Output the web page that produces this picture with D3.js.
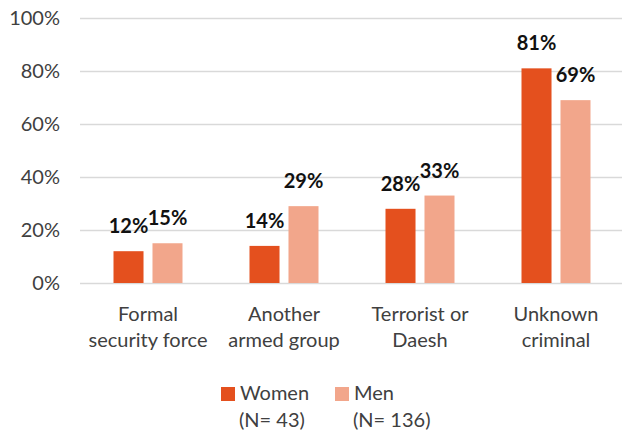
<!DOCTYPE html>
<html>
<head>
<meta charset="utf-8">
<script src="https://cdn.jsdelivr.net/npm/d3@7"></script>
<style>
  html, body { margin: 0; padding: 0; background: #fff; }
  svg { display: block; font-family: Lato, "Open Sans", sans-serif; }
</style>
</head>
<body>
<svg id="chart" width="622" height="432"></svg>
<script>
const categories = [["Formal", "security force"], ["Another", "armed group"], ["Terrorist or", "Daesh"], ["Unknown", "criminal"]];
const categoryKeys = ["Formal security force", "Another armed group", "Terrorist or Daesh", "Unknown criminal"];
const series = ["Women", "Men"];
const seriesN = ["(N= 43)", "(N= 136)"];
const women = [12, 14, 28, 81];
const men = [15, 29, 33, 69];
const yTicks = [0, 20, 40, 60, 80, 100];
const colors = ["#E4501E", "#F2A68B"];

const values = [women, men];
const svg = d3.select("#chart");

const x0 = d3.scaleBand().domain(categoryKeys).range([80, 624]);
const x1 = d3.scaleBand().domain(series).range([0, 69]).paddingInner(0.23);
const y = d3.scaleLinear().domain([0, 100]).range([283, 18]);

// gridlines
svg.append("g").selectAll("line").data(yTicks).join("line")
  .attr("x1", 80).attr("x2", 622)
  .attr("y1", d => y(d) + 0.5).attr("y2", d => y(d) + 0.5)
  .attr("stroke", "#d9d9d9").attr("stroke-width", 1.3);

// y tick labels
const yAxis = d3.axisLeft(y).tickValues(yTicks).tickFormat(d => d + "%").tickSize(0).tickPadding(0);
const ya = svg.append("g").attr("transform", "translate(60,0)").call(yAxis);
ya.select(".domain").remove();
ya.selectAll("text").attr("font-size", 20).attr("fill", "#404040")
  .attr("font-family", "Lato, sans-serif");

// bars
const groups = svg.append("g").selectAll("g").data(categoryKeys).join("g")
  .attr("transform", d => `translate(${x0(d) + x0.bandwidth() / 2 - 34.5},0)`);

groups.each(function(cat, ci) {
  const g = d3.select(this);
  series.forEach((s, si) => {
    const v = values[si][ci];
    g.append("rect")
      .attr("x", x1(s)).attr("width", x1.bandwidth())
      .attr("y", y(v)).attr("height", y(0) - y(v))
      .attr("fill", colors[si]);
  });
  series.forEach((s, si) => {
    const v = values[si][ci];
    g.append("text")
      .attr("x", x1(s) + x1.bandwidth() / 2)
      .attr("y", y(v) - 18)
      .attr("text-anchor", "middle")
      .attr("font-size", 20).attr("font-weight", "bold").attr("fill", "#111")
      .text(v + "%");
  });
});

// category labels
const xl = svg.append("g");
categoryKeys.forEach((k, i) => {
  const t = xl.append("text")
    .attr("x", x0(k) + x0.bandwidth() / 2)
    .attr("y", 320.5)
    .attr("text-anchor", "middle")
    .attr("font-size", 20).attr("fill", "#404040");
  categories[i].forEach((line, li) => {
    t.append("tspan").attr("x", x0(k) + x0.bandwidth() / 2)
      .attr("dy", li === 0 ? 0 : 26).text(line);
  });
});

// legend
const legendX = [221, 335];
series.forEach((s, i) => {
  const lg = svg.append("g").attr("transform", `translate(${legendX[i]},0)`);
  lg.append("rect").attr("x", 0).attr("y", 387).attr("width", 14).attr("height", 14).attr("fill", colors[i]);
  lg.append("text").attr("x", 19).attr("y", 399.5).attr("font-size", 20).attr("fill", "#404040").text(s);
  lg.append("text").attr("x", 18).attr("y", 426.5).attr("font-size", 20).attr("fill", "#404040").text(seriesN[i]);
});
</script>
</body>
</html>
